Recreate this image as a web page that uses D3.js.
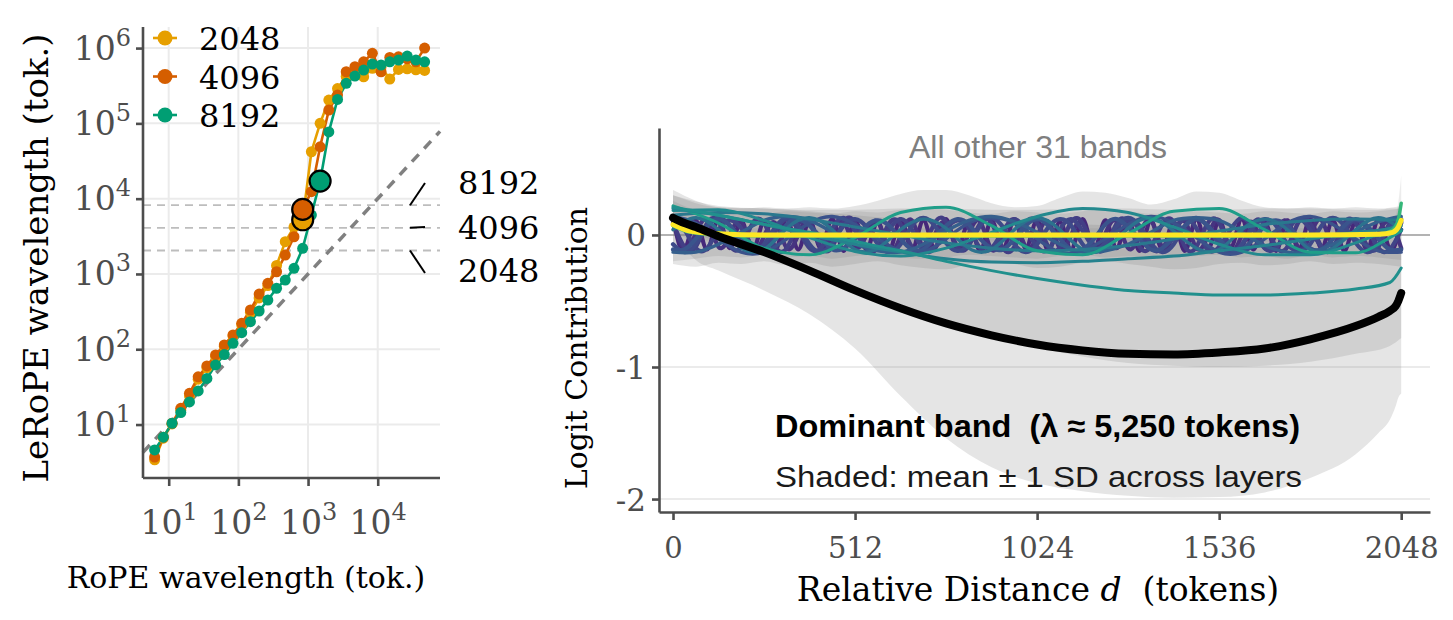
<!DOCTYPE html>
<html>
<head>
<meta charset="utf-8">
<script src="https://cdn.jsdelivr.net/npm/d3@7"></script>
<style>
  body { margin: 0; background: #fff; }
  svg text { white-space: pre; }
</style>
</head>
<body>
<div id="chart"></div>
<script>
// ---------- left panel data ----------
const ropeWavelength = [6.28, 8.38, 11.17, 14.90, 19.87, 26.49, 35.33, 47.11, 62.83, 83.78, 111.7, 149.0,
  198.7, 264.9, 353.3, 471.1, 628.3, 837.8, 1117, 1490, 1987, 2649, 3533, 4711, 6283, 8378, 11173,
  14899, 19869, 26495, 35332, 47116];
const lerope2048 = [3.4, 6.6, 10.2, 15.5, 24, 40, 57, 80, 110, 150, 210, 310, 480, 700, 1300, 2680,
  4200, 5250, 42000, 100000, 204000, 290000, 420000, 485000, 416000, 538000, 560000, 388000,
  520000, 530000, 515000, 505000];
const lerope4096 = [3.7, 6.8, 10.4, 16.4, 26, 43, 60, 84, 114, 155, 221, 332, 541, 750, 1070, 1780,
  3120, 7200, 12400, 48900, 150000, 238000, 485000, 565000, 658000, 851000, 485000, 752000,
  766000, 720000, 658000, 1000000];
const lerope8192 = [4.6, 6.8, 10.4, 14.4, 20, 28, 41, 62, 85, 120, 166, 232, 322, 450, 644, 830,
  1190, 2190, 6060, 17100, 77000, 208000, 340000, 425000, 511000, 613000, 595000, 658000,
  693000, 783000, 693000, 658000];
const contextLengths = [2048, 4096, 8192];
const contextColors = ["#E69F00", "#D55E00", "#009E73"];
const highlightBand = [17, 17, 19];
const decadeTicksX = [1e1, 1e2, 1e3, 1e4];
const decadeTicksY = [1e1, 1e2, 1e3, 1e4, 1e5, 1e6];

// ---------- right panel data ----------
const distTicks = [0, 512, 1024, 1536, 2048];
const logitTicks = [0, -1, -2];

// dominant band (mean and +-1 SD)
const domD = [0, 32, 64, 128, 256, 384, 512, 640, 768, 896, 1024, 1152, 1280, 1408, 1536, 1664,
  1792, 1920, 1984, 2016, 2032, 2040, 2048];
const domMean = [0.13, 0.09, 0.06, -0.01, -0.13, -0.27, -0.42, -0.555, -0.67, -0.76, -0.83, -0.875,
  -0.9, -0.905, -0.89, -0.86, -0.79, -0.69, -0.62, -0.575, -0.54, -0.5, -0.44];
const domLower = [0.02, -0.1, -0.19, -0.27, -0.42, -0.6, -0.86, -1.22, -1.54, -1.76, -1.88, -1.94,
  -1.975, -1.99, -1.985, -1.95, -1.84, -1.66, -1.5, -1.4, -1.3, -1.23, -1.2];
const domUpper = [0.3, 0.27, 0.24, 0.21, 0.2, 0.19, 0.19, 0.2, 0.2, 0.19, 0.19, 0.2, 0.2, 0.19,
  0.19, 0.2, 0.2, 0.19, 0.19, 0.2, 0.2, 0.2, 0.2];

// sampling grids for the other bands
const grid32 = [0, 32, 64, 96, 128, 160, 192, 224, 256, 288, 320, 352, 384, 416, 448, 480, 512, 544,
  576, 608, 640, 672, 704, 736, 768, 800, 832, 864, 896, 928, 960, 992, 1024, 1056, 1088, 1120, 1152,
  1184, 1216, 1248, 1280, 1312, 1344, 1376, 1408, 1440, 1472, 1504, 1536, 1568, 1600, 1632, 1664,
  1696, 1728, 1760, 1792, 1824, 1856, 1888, 1920, 1952, 1984, 2016, 2048];
const grid64 = [0, 64, 128, 192, 256, 320, 384, 448, 512, 576, 640, 704, 768, 832, 896, 960, 1024,
  1088, 1152, 1216, 1280, 1344, 1408, 1472, 1536, 1600, 1664, 1728, 1792, 1856, 1920, 1984, 2048];
const tealD = [0, 128, 256, 384, 512, 640, 768, 896, 1024, 1152, 1280, 1408, 1536, 1664, 1792,
  1920, 2016, 2048];
const flatD = [0, 48, 128, 256, 512, 768, 1024, 1280, 1536, 1792, 1984, 2024, 2040, 2048];

// high-frequency bands (grid32)
const band01 = [0.13,-0.12,0.11,-0.11,0.12,-0.10,0.11,-0.12, 0.10,-0.11,0.12,-0.11,0.11,-0.10,0.12,-0.12,
  0.11,-0.11,0.10,-0.12,0.12,-0.11,0.11,-0.10, 0.12,-0.11,0.10,-0.12,0.11,-0.11,0.12,-0.10,
  0.11,-0.12,0.10,-0.11,0.12,-0.11,0.11,-0.10, 0.12,-0.12,0.11,-0.11,0.10,-0.12,0.12,-0.11,
  0.11,-0.10,0.12,-0.11,0.10,-0.12,0.11,-0.11, 0.12,-0.10,0.11,-0.12,0.10,-0.11,0.12,-0.11, 0.10];
const band02 = [0.10,-0.10,0.01,0.11,-0.09,0.00,0.10,-0.11,-0.01, 0.09,-0.10,0.00,0.11,-0.10,0.01,0.10,-0.09,0.00,
  0.10,-0.11,-0.01,0.11,-0.10,0.00,0.09,-0.10,0.01, 0.10,-0.11,0.00,0.11,-0.09,-0.01,0.10,-0.10,0.00,
  0.09,-0.11,0.01,0.10,-0.10,0.00,0.11,-0.09,0.00, 0.10,-0.10,-0.01,0.11,-0.11,0.00,0.09,-0.10,0.01,
  0.10,-0.10,0.00,0.11,-0.09,0.00,0.10,-0.11,0.01, 0.10,-0.10];
const band03 = [0.09,-0.09,-0.09,0.09, 0.10,-0.08,-0.09,0.09, 0.09,-0.09,-0.10,0.08, 0.09,-0.09,-0.09,0.10,
  0.09,-0.10,-0.09,0.09, 0.08,-0.09,-0.09,0.09, 0.10,-0.09,-0.08,0.09, 0.09,-0.10,-0.09,0.09,
  0.09,-0.09,-0.09,0.10, 0.09,-0.08,-0.10,0.09, 0.09,-0.09,-0.09,0.08, 0.10,-0.09,-0.09,0.09,
  0.09,-0.10,-0.09,0.09, 0.08,-0.09,-0.09,0.10, 0.09,-0.09,-0.10,0.09, 0.09,-0.08,-0.09,0.09, 0.09];
const band04 = [0.12,0.04,-0.10,-0.10,0.04, 0.11,0.05,-0.09,-0.11,0.03, 0.12,0.04,-0.10,-0.10,0.05,
  0.13,0.03,-0.10,-0.09,0.04, 0.12,0.04,-0.11,-0.10,0.04, 0.11,0.05,-0.10,-0.10,0.03,
  0.12,0.04,-0.09,-0.11,0.04, 0.12,0.03,-0.10,-0.10,0.05, 0.11,0.04,-0.10,-0.10,0.04,
  0.12,0.05,-0.11,-0.09,0.04, 0.13,0.04,-0.10,-0.10,0.03, 0.12,0.04,-0.09,-0.10,0.04,
  0.11,0.05,-0.10,-0.11,0.04];
const band05 = [-0.07,-0.13,-0.07,0.07,0.13,0.07, -0.06,-0.12,-0.07,0.06,0.13,0.07, -0.07,-0.13,-0.06,0.07,0.12,0.06,
  -0.07,-0.13,-0.07,0.07,0.13,0.07, -0.06,-0.12,-0.07,0.07,0.13,0.06, -0.07,-0.13,-0.07,0.06,0.12,0.07,
  -0.07,-0.12,-0.06,0.07,0.13,0.07, -0.06,-0.13,-0.07,0.07,0.13,0.06, -0.07,-0.13,-0.07,0.06,0.12,0.07,
  -0.07,-0.12,-0.07,0.07,0.13,0.07, -0.06,-0.13,-0.07,0.07,0.12];
const band06 = [-0.11,-0.11,-0.03,0.07,0.12,0.07,-0.03, -0.10,-0.11,-0.03,0.08,0.12,0.07,-0.02,
  -0.11,-0.10,-0.03,0.07,0.11,0.07,-0.03, -0.11,-0.11,-0.02,0.07,0.12,0.08,-0.03,
  -0.10,-0.11,-0.03,0.07,0.12,0.07,-0.03, -0.11,-0.11,-0.03,0.08,0.12,0.06,-0.03,
  -0.11,-0.10,-0.02,0.07,0.12,0.07,-0.03, -0.11,-0.11,-0.03,0.07,0.11,0.07,-0.02,
  -0.10,-0.11,-0.03,0.07,0.12,0.07,-0.03, -0.11,-0.11];
// mid-frequency bands (grid64)
const band07 = [0.14,0.09,-0.03,-0.13,-0.13,-0.03,0.09, 0.14,0.08,-0.03,-0.12,-0.13,-0.03,0.09,
  0.13,0.09,-0.03,-0.13,-0.12,-0.03,0.08, 0.14,0.09,-0.02,-0.13,-0.13,-0.03,0.09, 0.14,0.08,-0.03,-0.12,-0.13];
const band08 = [-0.13,-0.13,-0.07,0.02,0.11,0.14,0.11,0.02,-0.07, -0.12,-0.13,-0.07,0.03,0.11,0.14,0.10,0.02,-0.07,
  -0.13,-0.12,-0.07,0.02,0.11,0.13,0.11,0.02,-0.08, -0.13,-0.13,-0.07,0.02,0.10,0.14];
const band09 = [0.04,0.13,0.04,-0.10,-0.11, 0.05,0.13,0.04,-0.11,-0.10, 0.04,0.12,0.05,-0.10,-0.11,
  0.04,0.13,0.04,-0.11,-0.10, 0.05,0.13,0.03,-0.10,-0.11, 0.04,0.12,0.04,-0.11,-0.10, 0.04,0.13,0.04];
// low-frequency bands (tealD)
const band10 = [0.15,0.17,0.16,0.12,0.06,0.0,-0.06,-0.1,-0.12,-0.11,-0.08,-0.03,0.03,0.08,0.11,0.12,0.115,0.11];
const band11 = [0.185,0.19,0.11,-0.02,-0.125,-0.16,-0.1,0.02,0.14,0.2,0.17,0.06,-0.07,-0.15,-0.15,-0.06,0.04,0.07];
const band12 = [0.22,0.09,-0.1,-0.15,-0.02,0.17,0.21,0.07,-0.12,-0.15,0.01,0.18,0.2,0.04,-0.13,-0.135,-0.02,0.03];
const band13 = [0.2,0.15,0.08,0.0,-0.07,-0.13,-0.18,-0.205,-0.21,-0.2,-0.18,-0.16,-0.12,-0.08,-0.03,0.02,0.05,0.1];
const band14 = [0.21,0.15,0.08,0.02,-0.05,-0.12,-0.2,-0.27,-0.33,-0.38,-0.42,-0.44,-0.455,-0.455,-0.44,-0.41,-0.36,-0.25];
// near-flat bands (flatD)
const band15 = [0.07,0.02,0.0,-0.008,-0.008,-0.008,-0.008,-0.008,-0.008,-0.008,0.0,0.04,0.12,0.24];
const band16 = [0.08,0.03,0.01,0.0,0.0,0.0,0.0,0.0,0.0,0.0,0.005,0.02,0.06,0.11];

// SD ribbons of the other bands
const envOuterUpper = [0.34,0.26,0.21,0.2,0.21,0.2,0.21,0.2,0.22,0.26,0.31,0.34,0.34,0.3,0.24,0.21,0.22,
  0.28,0.33,0.32,0.28,0.23,0.27,0.33,0.32,0.26,0.21,0.2,0.21,0.2,0.21,0.2,0.22];
const envOuterLower = [-0.22,-0.24,-0.21,-0.22,-0.2,-0.23,-0.21,-0.24,-0.22,-0.2,-0.23,-0.25,-0.26,-0.22,-0.2,
  -0.22,-0.25,-0.24,-0.21,-0.2,-0.22,-0.24,-0.26,-0.25,-0.22,-0.21,-0.23,-0.22,-0.2,-0.22,-0.21,-0.22,-0.24];
const envInnerUpper = [0.26,0.19,0.17,0.18,0.16,0.18,0.17,0.16,0.18,0.17,0.19,0.2,0.19,0.17,0.16,0.18,0.17,
  0.16,0.18,0.19,0.18,0.16,0.17,0.18,0.17,0.16,0.18,0.17,0.16,0.18,0.17,0.18,0.2];
const envInnerLower = [-0.2,-0.18,-0.16,-0.17,-0.15,-0.17,-0.16,-0.18,-0.16,-0.15,-0.17,-0.18,-0.17,-0.15,-0.16,
  -0.17,-0.18,-0.16,-0.15,-0.17,-0.16,-0.18,-0.17,-0.16,-0.15,-0.17,-0.16,-0.18,-0.15,-0.17,-0.16,-0.17,-0.19];
const band14Lower = [0.05,-0.05,-0.15,-0.27,-0.4,-0.53,-0.65,-0.76,-0.85,-0.92,-0.97,-0.99,-1.0,-0.99,-0.96,-0.9,-0.84,-0.78];
const band14Upper = [0.3,0.22,0.2,0.18,0.15,0.12,0.1,0.09,0.08,0.08,0.07,0.07,0.08,0.08,0.09,0.1,0.12,0.15];
const band15Upper = [0.14,0.07,0.05,0.05,0.05,0.05,0.05,0.05,0.05,0.05,0.06,0.1,0.25,0.45];
const band15Lower = [0.02,-0.03,-0.05,-0.05,-0.05,-0.05,-0.05,-0.05,-0.05,-0.05,-0.04,-0.01,0.03,0.05];

const serif = "'DejaVu Serif', serif";
const sans = "'Liberation Sans', Arial, sans-serif";
const axisColor = "#4d4d4d";

const svg = d3.select("#chart").append("svg")
  .attr("width", 1453)
  .attr("height", 620);

// ================= LEFT PANEL =================
const xL = d3.scaleLog().domain([10 ** 0.631, 10 ** 4.894]).range([143, 440]);
const yL = d3.scaleLog().domain([10 ** 0.29, 10 ** 6.28]).range([478, 27]);
const left = svg.append("g");

// gridlines
left.selectAll(".vgrid").data(decadeTicksX).enter().append("line")
  .attr("x1", d => xL(d)).attr("x2", d => xL(d))
  .attr("y1", yL.range()[0]).attr("y2", yL.range()[1])
  .attr("stroke", "#ebebeb").attr("stroke-width", 2);
left.selectAll(".hgrid").data(decadeTicksY).enter().append("line")
  .attr("x1", xL.range()[0]).attr("x2", xL.range()[1])
  .attr("y1", d => yL(d)).attr("y2", d => yL(d))
  .attr("stroke", "#ebebeb").attr("stroke-width", 2);

// context length reference lines
left.selectAll(".ctx").data(contextLengths).enter().append("line")
  .attr("x1", xL.range()[0]).attr("x2", xL.range()[1])
  .attr("y1", d => yL(d)).attr("y2", d => yL(d))
  .attr("stroke", "#bdbdbd").attr("stroke-width", 1.8)
  .attr("stroke-dasharray", "8,6");

// identity line
const dom = xL.domain();
left.append("line")
  .attr("x1", xL(dom[0])).attr("y1", yL(dom[0]))
  .attr("x2", xL(dom[1])).attr("y2", yL(dom[1]))
  .attr("stroke", "#808080").attr("stroke-width", 3.5)
  .attr("stroke-dasharray", "10,8");

const seriesL = [lerope2048, lerope4096, lerope8192];
const lineL = d3.line().x((d, i) => xL(ropeWavelength[i])).y(d => yL(d));
seriesL.forEach((s, k) => {
  left.append("path").attr("d", lineL(s))
    .attr("fill", "none").attr("stroke", contextColors[k]).attr("stroke-width", 2.6);
});
seriesL.forEach((s, k) => {
  left.selectAll(".pt" + k).data(s).enter().append("circle")
    .attr("cx", (d, i) => xL(ropeWavelength[i])).attr("cy", d => yL(d))
    .attr("r", 5.5).attr("fill", contextColors[k]);
});
// highlighted bands
seriesL.forEach((s, k) => {
  const i = highlightBand[k];
  left.append("circle")
    .attr("cx", xL(ropeWavelength[i])).attr("cy", yL(s[i]))
    .attr("r", 10.5).attr("fill", contextColors[k])
    .attr("stroke", "#000").attr("stroke-width", 2.2);
});

// axes
function styleAxis(g, size) {
  g.attr("font-family", serif).attr("font-size", size).attr("color", axisColor);
  g.select(".domain").attr("stroke-width", 2.6);
  g.selectAll(".tick line").attr("stroke-width", 2.6);
}
function powLabels(g) {
  g.selectAll(".tick text").each(function(d) {
    const t = d3.select(this).text(null);
    t.append("tspan").text("10");
    t.append("tspan").attr("dy", -14).attr("font-size", 24).text(Math.round(Math.log10(d)));
  });
}
const axLx = left.append("g").attr("transform", `translate(0,${yL.range()[0]})`)
  .call(d3.axisBottom(xL).tickValues(decadeTicksX).tickSize(8).tickSizeOuter(0));
axLx.select(".domain").attr("d", `M${xL.range()[0]},0H${xL.range()[1]}`);
styleAxis(axLx, 33); powLabels(axLx);
axLx.selectAll(".tick text").attr("y", 56).attr("dy", 0);

const axLy = left.append("g").attr("transform", `translate(${xL.range()[0]},0)`)
  .call(d3.axisLeft(yL).tickValues(decadeTicksY).tickSize(7).tickSizeOuter(0));
axLy.select(".domain").attr("d", `M0,${yL.range()[0]}V${yL.range()[1]}`);
styleAxis(axLy, 33); powLabels(axLy);
axLy.selectAll(".tick text").attr("x", -12).attr("dy", 11);

// axis titles
left.append("text")
  .attr("transform", "translate(48,258) rotate(-90)")
  .attr("text-anchor", "middle").attr("font-family", serif).attr("font-size", 34)
  .text("LeRoPE wavelength (tok.)");
left.append("text")
  .attr("x", 246).attr("y", 588)
  .attr("text-anchor", "middle").attr("font-family", serif).attr("font-size", 30)
  .text("RoPE wavelength (tok.)");

// legend
contextLengths.forEach((c, k) => {
  const ly = 38 + k * 38.5;
  left.append("line").attr("x1", 153).attr("x2", 177).attr("y1", ly).attr("y2", ly)
    .attr("stroke", contextColors[k]).attr("stroke-width", 2.6);
  left.append("circle").attr("cx", 165).attr("cy", ly).attr("r", 7.5).attr("fill", contextColors[k]);
  left.append("text").attr("x", 199).attr("y", ly + 12)
    .attr("font-family", serif).attr("font-size", 32).text(c);
});

// context labels with short leaders
const labelCenters = [270, 227, 182];
contextLengths.forEach((c, k) => {
  left.append("line")
    .attr("x1", 410).attr("y1", yL(c))
    .attr("x2", 425).attr("y2", labelCenters[k] + (k === 1 ? 0 : (k === 0 ? 3 : 1)))
    .attr("stroke", "#000").attr("stroke-width", 2);
  left.append("text").attr("x", 458).attr("y", labelCenters[k] + 12)
    .attr("font-family", serif).attr("font-size", 32).text(c);
});

// ================= RIGHT PANEL =================
const xR = d3.scaleLinear().domain([-39.4, 2129]).range([659, 1430]);
const yR = d3.scaleLinear().domain([-2.098, 0.81]).range([512, 128]);
const right = svg.append("g");

// gridlines and zero line
right.selectAll(".rgrid").data(logitTicks.filter(v => v !== 0)).enter().append("line")
  .attr("x1", 659).attr("x2", 1430)
  .attr("y1", d => yR(d)).attr("y2", d => yR(d))
  .attr("stroke", "#ebebeb").attr("stroke-width", 2);
right.append("line")
  .attr("x1", 659).attr("x2", 1430).attr("y1", yR(0)).attr("y2", yR(0))
  .attr("stroke", "#b3b3b3").attr("stroke-width", 2);

// ribbons
function ribbon(ds, lo, hi, op) {
  const area = d3.area().x((d, i) => xR(ds[i])).y0((d, i) => yR(lo[i])).y1((d, i) => yR(hi[i]))
    .curve(d3.curveMonotoneX);
  right.append("path").attr("d", area(ds)).attr("fill", "#7f7f7f").attr("fill-opacity", op);
}
ribbon(domD, domLower, domUpper, 0.2);
ribbon(tealD, band14Lower, band14Upper, 0.2);
ribbon(grid64, envOuterLower, envOuterUpper, 0.2);
ribbon(grid64, envInnerLower, envInnerUpper, 0.18);
ribbon(flatD, band15Lower, band15Upper, 0.15);

// band lines
function bandLine(ds, vals, color, width, curve) {
  const ln = d3.line().x((d, i) => xR(ds[i])).y(d => yR(d)).curve(curve);
  right.append("path").attr("d", ln(vals)).attr("fill", "none")
    .attr("stroke", color).attr("stroke-width", width).attr("stroke-linecap", "round");
}
const hiBands = [band01, band02, band03, band04, band05, band06];
const hiColors = ["#46287a", "#463480", "#433e85", "#414487", "#3e4a89", "#3a548c"];
hiBands.forEach((b, k) => bandLine(grid32, b, hiColors[k], 4.2, d3.curveNatural));
[band07, band08, band09].forEach((b, k) =>
  bandLine(grid64, b, ["#3b528b", "#355f8d", "#2c728e"][k], 3.4, d3.curveNatural));
[band10, band11, band12, band13, band14].forEach((b, k) =>
  bandLine(tealD, b, ["#2a788e", "#23898e", "#1f9e89", "#26828e", "#21908d"][k], 3, d3.curveMonotoneX));
bandLine(flatD, band15, "#35b779", 3.5, d3.curveMonotoneX);
bandLine(flatD, band16, "#fde725", 5, d3.curveMonotoneX);

// dominant band
bandLine(domD, domMean, "#000", 8, d3.curveMonotoneX);

// axes
const axRx = right.append("g").attr("transform", `translate(0,${yR.range()[0]})`)
  .call(d3.axisBottom(xR).tickValues(distTicks).tickFormat(d3.format("d")).tickSize(8).tickSizeOuter(0));
styleAxis(axRx, 29);
axRx.selectAll(".tick text").attr("y", 46).attr("dy", 0);

const axRy = right.append("g").attr("transform", `translate(${xR.range()[0]},0)`)
  .call(d3.axisLeft(yR).tickValues(logitTicks).tickFormat(d => String(d)).tickSize(7).tickSizeOuter(0));
styleAxis(axRy, 31);
axRy.selectAll(".tick text").attr("x", -13).attr("dy", 11);

// titles
right.append("text")
  .attr("transform", "translate(587,348) rotate(-90)")
  .attr("text-anchor", "middle").attr("font-family", serif).attr("font-size", 30)
  .text("Logit Contribution");
const xt = right.append("text")
  .attr("x", 1038).attr("y", 601)
  .attr("text-anchor", "middle").attr("font-family", serif).attr("font-size", 33);
xt.append("tspan").text("Relative Distance ");
xt.append("tspan").attr("font-style", "italic").text("d");
xt.append("tspan").text("  (tokens)");

// annotations
right.append("text")
  .attr("x", 1038).attr("y", 158).attr("text-anchor", "middle")
  .attr("font-family", sans).attr("font-size", 32).attr("fill", "#7f7f7f")
  .text("All other 31 bands");
right.append("text")
  .attr("x", 775).attr("y", 437)
  .attr("font-family", sans).attr("font-size", 31).attr("font-weight", "bold")
  .attr("textLength", 525).attr("lengthAdjust", "spacingAndGlyphs")
  .text("Dominant band  (\u03bb \u2248 5,250 tokens)");
right.append("text")
  .attr("x", 775).attr("y", 487)
  .attr("font-family", sans).attr("font-size", 30).attr("fill", "#1a1a1a")
  .attr("textLength", 527).attr("lengthAdjust", "spacingAndGlyphs")
  .text("Shaded: mean \u00b1 1 SD across layers");
</script>
</body>
</html>
